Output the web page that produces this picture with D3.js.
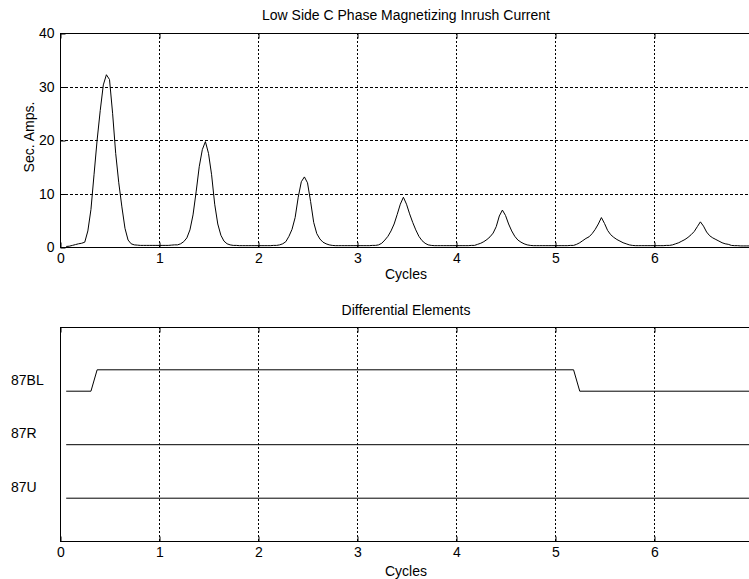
<!DOCTYPE html>
<html>
<head>
<meta charset="utf-8">
<script src="https://cdn.jsdelivr.net/npm/d3@7"></script>
<style>
  body { margin: 0; background: #fff; }
  svg { display: block; font-family: "Liberation Sans", Arial, sans-serif; }
</style>
</head>
<body>
<div id="chart"></div>
<script>
// ----------------------------------------
// DATA
// ----------------------------------------
const samplesPerCycle = 32;   // inrush record, samples per cycle
const firstSample = 2;        // first sample index of the record

// secondary amps, one row per cycle
const inrushAmps = [
  0.1, 0.15, 0.3, 0.45, 0.6, 0.7, 0.9, 3.0, 7.0, 13.5, 20.0, 25.5, 30.3, 32.2, 31.3, 25.0,
  17.5, 12.0, 7.5, 3.5, 1.3, 0.6, 0.4, 0.35, 0.3, 0.3, 0.3, 0.3, 0.3, 0.3,

  0.3, 0.3, 0.3, 0.3, 0.35, 0.4, 0.4, 0.6, 1.0, 1.7, 3.2, 6.0, 10.3, 15.0, 18.2, 19.7,
  17.5, 13.5, 8.0, 4.3, 2.2, 1.1, 0.6, 0.4, 0.3, 0.3, 0.25, 0.25, 0.25, 0.25, 0.25, 0.25,

  0.25, 0.25, 0.25, 0.25, 0.25, 0.3, 0.3, 0.4, 0.6, 1.0, 2.0, 3.3, 5.5, 9.3, 12.2, 13.1,
  12.0, 8.5, 4.6, 2.5, 1.5, 0.9, 0.6, 0.4, 0.3, 0.25, 0.25, 0.25, 0.25, 0.25, 0.25, 0.25,

  0.25, 0.25, 0.25, 0.25, 0.25, 0.3, 0.3, 0.4, 0.7, 1.3, 2.0, 3.0, 4.3, 6.1, 8.0, 9.3,
  8.0, 6.2, 4.6, 3.2, 2.0, 1.2, 0.7, 0.4, 0.3, 0.25, 0.25, 0.25, 0.25, 0.25, 0.25, 0.25,

  0.25, 0.25, 0.25, 0.25, 0.25, 0.3, 0.3, 0.5, 0.7, 1.0, 1.4, 1.9, 2.6, 3.8, 5.8, 6.9,
  5.9, 4.3, 3.0, 2.0, 1.3, 0.9, 0.6, 0.4, 0.3, 0.25, 0.25, 0.25, 0.25, 0.25, 0.25, 0.25,

  0.25, 0.25, 0.25, 0.25, 0.25, 0.3, 0.3, 0.5, 0.8, 1.2, 1.6, 1.9, 2.5, 3.3, 4.3, 5.5,
  4.4, 3.1, 2.3, 1.8, 1.4, 1.1, 0.8, 0.6, 0.4, 0.3, 0.25, 0.25, 0.25, 0.25, 0.25, 0.25,

  0.25, 0.25, 0.25, 0.25, 0.3, 0.3, 0.4, 0.6, 0.8, 1.1, 1.4, 1.8, 2.3, 2.9, 3.8, 4.7,
  3.9, 2.8, 2.1, 1.7, 1.4, 1.1, 0.8, 0.6, 0.5, 0.3, 0.25, 0.25, 0.2, 0.2, 0.2, 0.2
];

const cycleTicks = [0, 1, 2, 3, 4, 5, 6];
const ampTicks = [0, 10, 20, 30, 40];

// differential element bits: change points (cycles) and state
const elementNames = ["87U", "87R", "87BL"];
const elementRows = [1, 2, 3];          // tick row of each element label
const elementBase = [0.8, 1.8, 2.8];    // trace offset of each element
const bitHeight = 0.4;
const elementTimes = [
  [0.0625, 6.97],
  [0.0625, 6.97],
  [0.0625, 0.3125, 0.375, 5.1875, 5.25, 6.97]
];
const elementStates = [
  [0, 0],
  [0, 0],
  [0, 0, 1, 1, 0, 0]
];

const inrush = inrushAmps.map((v, i) => ({ t: (i + firstSample) / samplesPerCycle, v }));

// ----------------------------------------
// SETUP
// ----------------------------------------
const width = 749, height = 579;
const fontSize = 14;

const svg = d3.select("#chart")
  .append("svg")
  .attr("width", width)
  .attr("height", height);

const x = d3.scaleLinear().domain([0, 7]).range([60, 753]);

function panel(top, bottom, yDomain) {
  const y = d3.scaleLinear().domain(yDomain).range([bottom, top]);
  const g = svg.append("g");

  // vertical grid
  g.selectAll(".vgrid")
    .data(cycleTicks.slice(1))
    .join("line")
    .attr("x1", d => Math.round(x(d)) + 0.5)
    .attr("x2", d => Math.round(x(d)) + 0.5)
    .attr("y1", top)
    .attr("y2", bottom)
    .attr("stroke", "#000")
    .attr("stroke-dasharray", "2,2");

  // box
  g.append("rect")
    .attr("x", x.range()[0] + 0.5)
    .attr("y", top + 0.5)
    .attr("width", x.range()[1] - x.range()[0])
    .attr("height", bottom - top)
    .attr("fill", "none")
    .attr("stroke", "#000");

  // x axis, ticks inward
  g.append("g")
    .attr("transform", `translate(0.5,${bottom + 0.5})`)
    .call(d3.axisBottom(x).tickValues(cycleTicks).tickFormat(d3.format("d")).tickSize(-5).tickPadding(6));
  g.append("g")
    .attr("transform", `translate(0.5,${top + 0.5})`)
    .call(d3.axisTop(x).tickValues(cycleTicks).tickSize(-5).tickFormat(""));

  g.selectAll(".domain").remove();
  g.selectAll(".tick line").attr("stroke", "#000");
  g.selectAll("text")
    .attr("fill", "#000")
    .style("font-size", fontSize + "px")
    .style("font-family", "'Liberation Sans', Arial, sans-serif");

  return { g, y };
}

// ----------------------------------------
// TOP: INRUSH CURRENT
// ----------------------------------------
const top1 = panel(33, 247, [0, 40]);

top1.g.selectAll(".hgrid")
  .data(ampTicks.slice(1, -1))
  .join("line")
  .attr("x1", x.range()[0])
  .attr("x2", x.range()[1])
  .attr("y1", d => Math.round(top1.y(d)) + 0.5)
  .attr("y2", d => Math.round(top1.y(d)) + 0.5)
  .attr("stroke", "#000")
  .attr("stroke-dasharray", "3,2");

top1.g.append("g")
  .attr("transform", `translate(${x.range()[0] + 0.5},0.5)`)
  .call(d3.axisLeft(top1.y).tickValues(ampTicks).tickSize(-5).tickPadding(6))
  .call(a => a.select(".domain").remove())
  .call(a => a.selectAll("text").attr("fill", "#000").style("font-size", fontSize + "px"));

const line1 = d3.line()
  .x(d => x(d.t))
  .y(d => top1.y(d.v));

top1.g.append("path")
  .datum(inrush)
  .attr("fill", "none")
  .attr("stroke", "#000")
  .attr("stroke-width", 1)
  .attr("d", line1);

svg.append("text")
  .attr("x", 406)
  .attr("y", 20)
  .attr("text-anchor", "middle")
  .style("font-size", fontSize + "px")
  .text("Low Side C Phase Magnetizing Inrush Current");

svg.append("text")
  .attr("transform", "rotate(-90)")
  .attr("x", -137)
  .attr("y", 34)
  .attr("text-anchor", "middle")
  .style("font-size", fontSize + "px")
  .text("Sec. Amps.");

svg.append("text")
  .attr("x", 406)
  .attr("y", 279)
  .attr("text-anchor", "middle")
  .style("font-size", fontSize + "px")
  .text("Cycles");

// ----------------------------------------
// BOTTOM: DIFFERENTIAL ELEMENTS
// ----------------------------------------
const bot = panel(327, 541, [0, 4]);

bot.g.selectAll(".elem-label")
  .data(elementNames)
  .join("text")
  .attr("class", "elem-label")
  .attr("x", 11)
  .attr("y", (d, i) => bot.y(elementRows[i]))
  .attr("dy", "0.32em")
  .attr("fill", "#000")
  .style("font-size", fontSize + "px")
  .text(d => d);

const line2 = d3.line()
  .x(d => x(d.t))
  .y(d => bot.y(d.v));

elementNames.forEach((name, i) => {
  const pts = elementTimes[i].map((t, j) => ({ t, v: elementBase[i] + bitHeight * elementStates[i][j] }));
  bot.g.append("path")
    .datum(pts)
    .attr("fill", "none")
    .attr("stroke", "#000")
    .attr("stroke-width", 1)
    .attr("d", line2);
});

svg.append("text")
  .attr("x", 406)
  .attr("y", 315)
  .attr("text-anchor", "middle")
  .style("font-size", fontSize + "px")
  .text("Differential Elements");

svg.append("text")
  .attr("x", 406)
  .attr("y", 576)
  .attr("text-anchor", "middle")
  .style("font-size", fontSize + "px")
  .text("Cycles");
</script>
</body>
</html>
